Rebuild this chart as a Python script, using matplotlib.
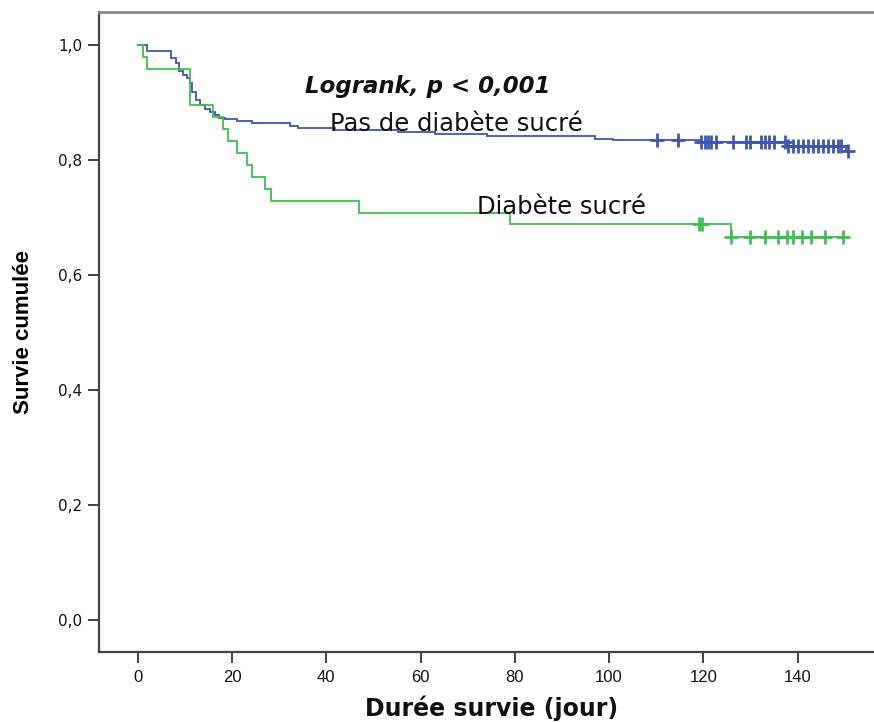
import numpy as np
import matplotlib
matplotlib.use("Agg")
import matplotlib.pyplot as plt

# ---- data ----
blue_times = [0, 2.0, 7.1, 8.1, 8.8, 9.7, 10.4, 11.1, 11.5, 12.4, 13.2, 14.3, 15.3, 16.4,
              17.3, 18.5, 21.0, 24.2, 32.3, 34.1, 41.9, 55.3, 63.1, 74.0, 97.0, 100.9,
              119.6, 137.5, 150.2]
blue_surv = [1.0, 0.990, 0.977, 0.969, 0.954, 0.948, 0.942, 0.934, 0.919, 0.905, 0.896,
             0.889, 0.883, 0.878, 0.873, 0.871, 0.868, 0.864, 0.859, 0.856, 0.852, 0.848,
             0.845, 0.842, 0.837, 0.834, 0.831, 0.824, 0.815]
blue_censor = [110.1, 114.7, 119.6, 120.3, 121.0, 121.7, 122.7, 126.2, 129.0, 129.9,
               132.2, 133.1, 134.0, 135.0, 137.3, 138.0, 139.1, 140.1, 141.2, 142.3,
               143.3, 144.4, 145.4, 146.5, 147.5, 148.6, 149.3, 150.7]

green_times = [0, 1.1, 2.0, 11.1, 16.0, 18.2, 19.2, 21.0, 23.1, 24.2, 27.0, 28.2, 47.0,
               79.0, 125.8]
green_surv = [1.0, 0.979, 0.958, 0.896, 0.875, 0.854, 0.833, 0.813, 0.792, 0.771, 0.750,
              0.729, 0.708, 0.688, 0.666]
green_censor = [119.1, 119.8, 125.8, 129.9, 133.1, 135.9, 137.8, 139.1, 140.9, 142.9,
                145.9, 149.7]

t_end = 150.7
x_ticks = [0, 20, 40, 60, 80, 100, 120, 140]
y_ticks = [0.0, 0.2, 0.4, 0.6, 0.8, 1.0]
y_tick_labels = ["0,0", "0,2", "0,4", "0,6", "0,8", "1,0"]

label_blue = "Pas de diabète sucré"
label_green = "Diabète sucré"
logrank_text = "Logrank, p < 0,001"
xlabel = "Durée survie (jour)"
ylabel = "Survie cumulée"

BLUE = "#3f57b3"
GREEN = "#3fbf4f"

plt.rcParams['font.family'] = ['Liberation Sans', 'DejaVu Sans']

fig = plt.figure(figsize=(8.74, 7.22), dpi=100)
ax = fig.add_axes([99 / 874, 1 - 652 / 722, 1 - 99 / 874, (652 - 12) / 722])


def surv_at(times, surv, t):
    idx = np.searchsorted(times, t, side='right') - 1
    return np.array(surv)[idx]


for times, surv, cens, col in [(blue_times, blue_surv, blue_censor, BLUE),
                               (green_times, green_surv, green_censor, GREEN)]:
    xs = list(times) + [t_end]
    ys = list(surv) + [surv[-1]]
    ax.step(xs, ys, where='post', color=col, lw=1.3, solid_joinstyle='miter')
    cy = surv_at(np.array(times), surv, np.array(cens))
    ax.plot(cens, cy, linestyle='none', marker='+', markersize=10, mew=2.0, color=col)

ax.set_xlim(-8.2, 156.2)
ax.set_ylim(-0.0557, 1.0574)
ax.set_xticks(x_ticks)
ax.set_xticklabels([str(v) for v in x_ticks], fontsize=12)
ax.set_yticks(y_ticks)
ax.set_yticklabels(y_tick_labels, fontsize=11, family=['DejaVu Sans'])
ax.tick_params(axis='both', direction='out', length=8, width=1.3, colors='#333333',
               labelcolor='#111111')
ax.tick_params(axis='x', pad=5)
ax.tick_params(axis='y', pad=4)

for s in ['left', 'bottom']:
    ax.spines[s].set_color('#444444')
    ax.spines[s].set_linewidth(1.6)
ax.spines['top'].set_color('#8a8a8a')
ax.spines['top'].set_linewidth(2.0)
ax.spines['right'].set_visible(False)

# x-axis title placed where the reference shows it
fig.text(492 / 874, 0.002, xlabel,
         fontsize=17, fontweight='bold', family=['DejaVu Sans'],
         ha='center', va='bottom', color='#111111')
ax.set_ylabel(ylabel, fontsize=16, fontweight='bold', labelpad=17)

ax.text(35.5, 0.927, logrank_text, fontsize=16.5, fontweight='bold', fontstyle='italic',
        family=['DejaVu Sans'], va='center', ha='left', color='#111111')
ax.text(40.7, 0.863, label_blue, fontsize=17.5, family=['DejaVu Sans'],
        va='center', ha='left', color='#111111')
ax.text(72.0, 0.718, label_green, fontsize=17.5, family=['DejaVu Sans'],
        va='center', ha='left', color='#111111')

fig.savefig("out.png", dpi=100)
